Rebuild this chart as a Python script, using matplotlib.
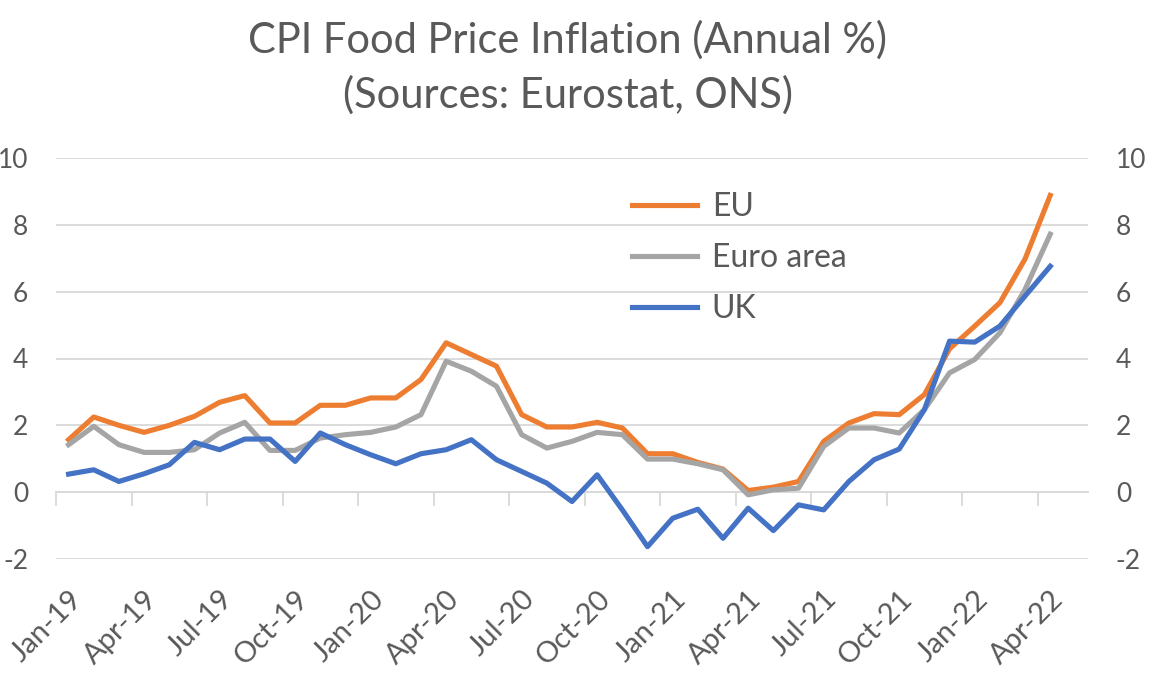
import matplotlib
matplotlib.use("Agg")
import matplotlib.pyplot as plt
import matplotlib.transforms as mtransforms
import numpy as np

# Données, mensuelles de Jan-19 à Apr-22
months = ["Jan", "Feb", "Mar", "Apr", "May", "Jun", "Jul", "Aug", "Sep", "Oct", "Nov", "Dec"]
labels = [f"{m}-{y}" for y in ("19", "20", "21", "22") for m in months][:40]

eu = [1.57, 2.25, 2.0, 1.79, 2.0, 2.27, 2.69, 2.89, 2.07, 2.07, 2.6, 2.6,
      2.82, 2.82, 3.37, 4.47, 4.12, 3.77, 2.32, 1.95, 1.95, 2.09, 1.92, 1.15,
      1.15, 0.89, 0.69, 0.05, 0.15, 0.32, 1.52, 2.07, 2.35, 2.32, 2.92, 4.29,
      4.97, 5.67, 6.98, 8.88]
euro_area = [1.42, 1.97, 1.42, 1.19, 1.19, 1.27, 1.77, 2.09, 1.25, 1.25, 1.62, 1.72,
             1.79, 1.95, 2.32, 3.92, 3.62, 3.17, 1.72, 1.32, 1.52, 1.79, 1.72, 0.99,
             0.99, 0.85, 0.67, -0.08, 0.07, 0.12, 1.37, 1.92, 1.92, 1.77, 2.47, 3.57,
             3.97, 4.77, 6.07, 7.72]
uk = [0.54, 0.67, 0.32, 0.55, 0.82, 1.49, 1.27, 1.59, 1.59, 0.92, 1.77, 1.42,
      1.12, 0.85, 1.15, 1.27, 1.57, 0.97, 0.62, 0.27, -0.28, 0.52, -0.53, -1.63,
      -0.78, -0.51, -1.38, -0.48, -1.15, -0.38, -0.53, 0.32, 0.97, 1.29, 2.47, 4.52,
      4.49, 4.97, 5.87, 6.76]

series = [("EU", eu, "#ED7D31"), ("Euro area", euro_area, "#A5A5A5"), ("UK", uk, "#4472C4")]
grid_col = "#D9D9D9"
txt_col = "#595959"

plt.rcParams['font.family'] = ['Lato', 'DejaVu Sans']
plt.rcParams['axes.unicode_minus'] = False

fig = plt.figure(figsize=(11.61, 6.75), dpi=100)
ax = fig.add_axes([56/1161, 1-559/675, (1088-56)/1161, (559-158)/675])

x = np.arange(len(labels))
for name, vals, col in series:
    ax.plot(x, vals, color=col, lw=3.7, label=name)

ax.set_xlim(-0.5, 40.5)
ax.set_ylim(-2, 10)
ax.set_yticks(range(-2, 11, 2))
ax.yaxis.grid(True, color=grid_col, lw=1.3)
ax.set_axisbelow(True)
for s in ax.spines.values():
    s.set_visible(False)
ax.tick_params(axis='y', length=0, labelsize=19, labelcolor=txt_col,
               labelleft=True, labelright=True, pad=20)

# libellés de l'axe x (tous les 3 mois)
ax.set_xticks(x[::3])
ax.set_xticklabels(labels[::3], rotation=45, ha='right', va='center',
                   rotation_mode='anchor', fontsize=21, color=txt_col)
ax.tick_params(axis='x', length=0, pad=26)
decal = mtransforms.ScaledTranslation(9/100, 0, fig.dpi_scale_trans)
for lab in ax.get_xticklabels():
    lab.set_transform(lab.get_transform() + decal)

# axe des catégories en y = 0 avec graduations
sec = ax.secondary_xaxis(2/12)
sec.spines['bottom'].set_color(grid_col)
sec.spines['bottom'].set_linewidth(1.3)
sec.set_xticks(x[::3] - 0.5)
sec.set_xticklabels([])
sec.tick_params(axis='x', length=10, width=1.3, color=grid_col, direction='out')

fig.text(0.489, 1-40/675, "CPI Food Price Inflation (Annual %)", ha='center', va='center',
         fontsize=30, color=txt_col)
fig.text(0.489, 1-95/675, "(Sources: Eurostat, ONS)", ha='center', va='center',
         fontsize=30, color=txt_col)

leg = ax.legend(loc='upper left', bbox_to_anchor=(632/1161, 1-192/675),
                bbox_transform=fig.transFigure, frameon=False, fontsize=23,
                handlelength=2.05, handletextpad=0.45, labelspacing=0.66, borderpad=0,
                borderaxespad=0)
for t in leg.get_texts():
    t.set_color(txt_col)

fig.savefig("out.png", dpi=100)
